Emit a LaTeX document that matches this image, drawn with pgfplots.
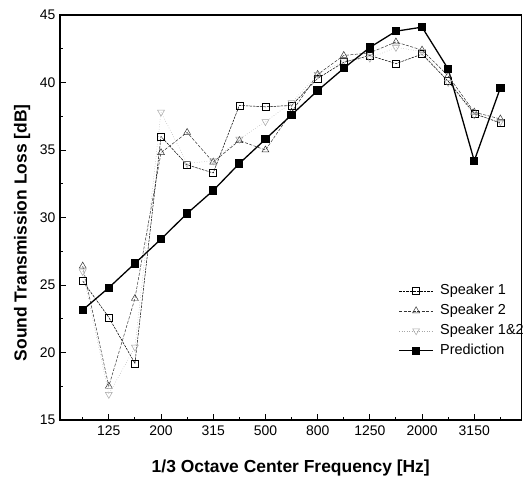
\documentclass[border=0pt]{standalone}
\usepackage{fontspec}
\setmainfont{Liberation Sans}
\usepackage{pgfplots}
\pgfplotsset{compat=1.18}
\begin{document}
\begin{tikzpicture}
\begin{axis}[
  at={(0,0)}, anchor=south west,
  scale only axis, width=461.5bp, height=405bp,
  xmin=-0.87, xmax=16.81, ymin=15, ymax=45,
  xtick={1,3,5,7,9,11,13,15},
  xticklabels={125,200,315,500,800,1250,2000,3150},
  minor xtick={0,2,4,6,8,10,12,14,16},
  ytick={15,20,25,30,35,40,45},
  minor ytick={17.5,22.5,27.5,32.5,37.5,42.5},
  xtick pos=bottom, ytick pos=left, tick align=inside,
  major tick length=6bp, minor tick length=3.5bp,
  every tick/.style={black, line width=0.9pt},
  axis line style={line width=1.1pt},
  /pgf/number format/assume math mode=true,
  ticklabel style={font=\fontsize{14}{14}\selectfont},
  xticklabel style={yshift=-2bp},
  yticklabel style={xshift=-1bp},
  xlabel={\bfseries 1/3 Octave Center Frequency [Hz]},
  ylabel={\bfseries Sound Transmission Loss [dB]},
  label style={font=\fontsize{17.5}{18}\selectfont},
  xlabel style={at={(axis description cs:0.5,-0.1185)}, anchor=center},
  ylabel style={at={(axis description cs:-0.082,0.462)}, anchor=center},
  legend style={at={(axis description cs:0.733,0.335)}, anchor=north west, draw=none, fill=none,
    font=\fontsize{14.5}{14.5}\selectfont, inner sep=0pt, row sep=7.5bp,
    nodes={inner sep=0pt, text height=10bp, text depth=2.5bp}},
  legend image code/.code={\draw[mark repeat=2,mark phase=2] plot coordinates {(0bp,0bp) (17bp,0bp) (34bp,0bp)};},
  legend cell align=left,
]
\addplot[black, line width=0.5pt, dash pattern=on 2.5pt off 1pt, mark=square, mark size=3.5bp,
  mark options={solid, fill=white}] coordinates {
(0,25.3) (1,22.6) (2,19.2) (3,36.0) (4,33.9) (5,33.3) (6,38.3) (7,38.2) (8,38.3)
(9,40.3) (10,41.5) (11,42.0) (12,41.4) (13,42.1) (14,40.1) (15,37.7) (16,37.0)};
\addlegendentry{\ \,Speaker 1}
\addplot[black!80, line width=0.5pt, dash pattern=on 3pt off 1.5pt, mark=triangle, mark size=4bp,
  mark options={solid, fill=white}] coordinates {
(0,26.4) (1,17.5) (2,24.0) (3,34.8) (4,36.3) (5,34.1) (6,35.7) (7,35.0) (8,37.8)
(9,40.6) (10,42.0) (11,42.2) (12,43.0) (13,42.4) (14,40.5) (15,37.8) (16,37.3)};
\addlegendentry{\ \,Speaker 2}
\addplot[black!35, line width=0.5pt, dotted, mark=triangle, mark size=4bp,
  mark options={solid, rotate=180, fill=white}] coordinates {
(0,26.0) (1,16.9) (2,20.4) (3,37.8) (4,34.0) (5,34.2) (6,35.8) (7,37.1) (8,38.5)
(9,40.6) (10,41.6) (11,41.8) (12,42.6) (13,42.3) (14,40.0) (15,37.6) (16,37.1)};
\addlegendentry{\ \,Speaker 1\&2}
\addplot[black, line width=1.3pt, mark=square*, mark size=3.5bp, mark options={solid}] coordinates {
(0,23.15) (1,24.8) (2,26.6) (3,28.4) (4,30.3) (5,32.0) (6,34.0) (7,35.8) (8,37.6)
(9,39.4) (10,41.05) (11,42.6) (12,43.8) (13,44.1) (14,41.0) (15,34.2) (16,39.6)};
\addlegendentry{\ \,Prediction}
\end{axis}
\pgfresetboundingbox
\useasboundingbox (-60bp,-61bp) rectangle (463bp,420bp);
\end{tikzpicture}
\end{document}
